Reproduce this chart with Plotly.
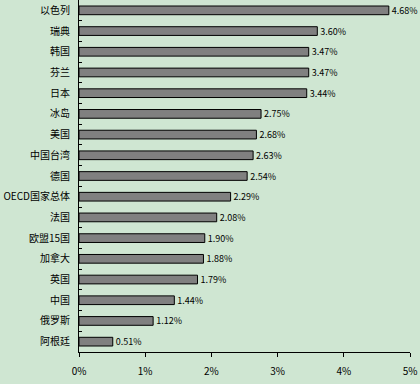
import plotly.graph_objects as go

categories = ["以色列", "瑞典", "韩国", "芬兰", "日本", "冰岛", "美国", "中国台湾", "德国",
              "OECD国家总体", "法国", "欧盟15国", "加拿大", "英国", "中国", "俄罗斯", "阿根廷"]
values = [4.68, 3.60, 3.47, 3.47, 3.44, 2.75, 2.68, 2.63, 2.54, 2.29, 2.08, 1.90, 1.88, 1.79, 1.44, 1.12, 0.51]
labels = [f"{v:.2f}%" for v in values]
x_ticks = [0, 1, 2, 3, 4, 5]
x_ticktext = [f"{t}%" for t in x_ticks]

bg = "#CFE6D2"
font_family = "Noto Sans CJK SC, DejaVu Sans, sans-serif"

fig = go.Figure(go.Bar(
    y=categories, x=values, orientation="h",
    marker=dict(color="#808080", line=dict(color="black", width=1)),
    width=0.42,
    text=labels, textposition="outside", cliponaxis=False,
    constraintext="none",
    textfont=dict(size=9, color="black", family=font_family),
))

fig.update_layout(
    width=420, height=384,
    margin=dict(l=79, r=10, t=0, b=32),
    paper_bgcolor=bg, plot_bgcolor=bg,
    showlegend=False,
    font=dict(family=font_family, size=10, color="black"),
    xaxis=dict(range=[0, 5], tickvals=x_ticks, ticktext=x_ticktext,
               ticks="outside", ticklen=4, tickcolor="black",
               showline=True, linecolor="black", linewidth=1,
               showgrid=False, zeroline=False, ticklabelstandoff=6,
               automargin=False, tickfont=dict(size=10)),
    yaxis=dict(autorange="reversed", type="category", tickson="boundaries",
               ticks="inside", ticklen=3, tickcolor="black",
               showline=True, linecolor="black", linewidth=1,
               showgrid=False, ticklabelstandoff=6, automargin=False,
               tickfont=dict(size=10)),
    bargap=0.58,
)

fig.write_html("out.html", config={"displayModeBar": False, "staticPlot": True})
with open("out.html", encoding="utf-8") as f:
    html = f.read()
html = html.replace("<head>", "<head><style>html,body{margin:0;padding:0;overflow:hidden;background:%s;}</style>" % bg, 1)
with open("out.html", "w", encoding="utf-8") as f:
    f.write(html)
